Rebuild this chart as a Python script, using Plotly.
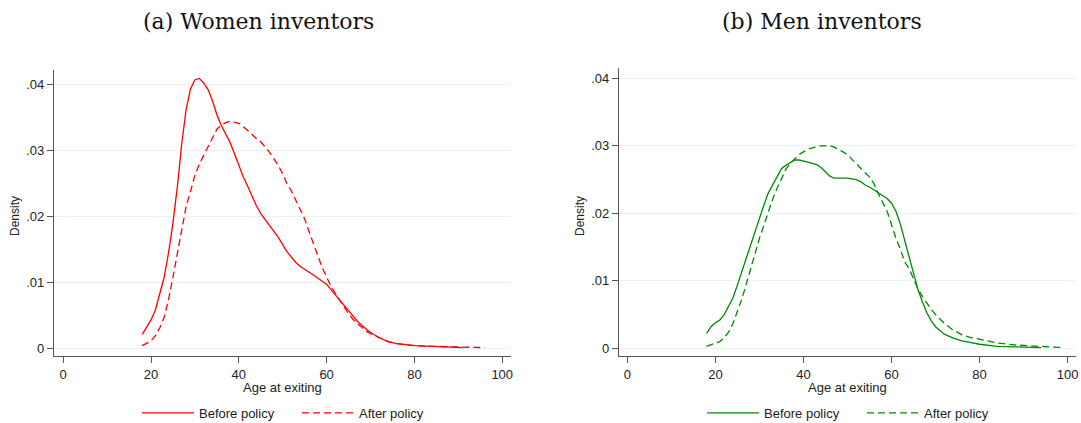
import plotly.graph_objects as go

# ---------------- data: kernel densities of age at exiting ----------------
women_before_age = [18, 19, 20, 21, 22, 23, 24, 25, 26, 27, 28, 29, 30, 31, 32, 33, 34, 35, 36, 37,
                    38, 39, 40, 41, 42, 43, 44, 45, 46, 47, 48, 49, 50, 51, 52, 53, 54, 55, 56, 57,
                    58, 59, 60, 61, 62, 63, 64, 65, 66, 67, 68, 69, 70, 72, 74, 76, 78, 80, 84, 88, 91]
women_before = [0.0021, 0.0031, 0.0043, 0.0058, 0.0082, 0.0108, 0.0145, 0.0190, 0.0245, 0.0310,
                0.0362, 0.0393, 0.0407, 0.0409, 0.0402, 0.0392, 0.0375, 0.0354, 0.0338, 0.0325,
                0.0312, 0.0295, 0.0276, 0.0260, 0.0246, 0.0230, 0.0216, 0.0204, 0.0195, 0.0187,
                0.0178, 0.0168, 0.0157, 0.0146, 0.0138, 0.0130, 0.0124, 0.0120, 0.0115, 0.0111,
                0.0106, 0.0101, 0.0097, 0.0089, 0.0081, 0.0073, 0.0065, 0.0057, 0.0049, 0.0041,
                0.0035, 0.0029, 0.0024, 0.0016, 0.0010, 0.0007, 0.0005, 0.0004, 0.0003, 0.0002, 0.0001]

women_after_age = [18, 19, 20, 21, 22, 23, 24, 25, 26, 27, 28, 29, 30, 31, 32, 33, 34, 35, 36, 37,
                   38, 39, 40, 41, 42, 43, 44, 45, 46, 47, 48, 49, 50, 51, 52, 53, 54, 55, 56, 57,
                   58, 59, 60, 61, 62, 63, 64, 65, 66, 67, 68, 69, 70, 72, 74, 76, 78, 80, 84, 88, 92, 96]
women_after = [0.0004, 0.0007, 0.0011, 0.0019, 0.0031, 0.0047, 0.0074, 0.0108, 0.0145, 0.0183,
               0.0215, 0.0238, 0.0262, 0.0279, 0.0292, 0.0305, 0.0320, 0.0332, 0.0338, 0.0342,
               0.0344, 0.0343, 0.0341, 0.0336, 0.0330, 0.0323, 0.0318, 0.0313, 0.0305, 0.0297,
               0.0287, 0.0277, 0.0264, 0.0249, 0.0238, 0.0224, 0.0211, 0.0196, 0.0177, 0.0159,
               0.0141, 0.0122, 0.0108, 0.0094, 0.0083, 0.0072, 0.0061, 0.0052, 0.0044, 0.0037,
               0.0032, 0.0026, 0.0022, 0.0016, 0.0010, 0.0007, 0.0005, 0.0004, 0.0003, 0.0002,
               0.0001, 0.0001]

men_before_age = [18, 19, 20, 21, 22, 23, 24, 25, 26, 27, 28, 29, 30, 31, 32, 33, 34, 35, 36, 37,
                  38, 39, 40, 41, 42, 43, 44, 45, 46, 47, 48, 49, 50, 51, 52, 53, 54, 55, 56, 57,
                  58, 59, 60, 61, 62, 63, 64, 65, 66, 67, 68, 69, 70, 72, 74, 76, 78, 80, 84, 88, 92, 94]
men_before = [0.0022, 0.0032, 0.0038, 0.0042, 0.0050, 0.0062, 0.0075, 0.0094, 0.0114, 0.0134,
              0.0154, 0.0172, 0.0192, 0.0212, 0.0230, 0.0242, 0.0256, 0.0266, 0.0271, 0.0275,
              0.0279, 0.0279, 0.0278, 0.0276, 0.0274, 0.0272, 0.0268, 0.0261, 0.0255, 0.0252,
              0.0252, 0.0253, 0.0252, 0.0251, 0.0250, 0.0247, 0.0242, 0.0239, 0.0235, 0.0231,
              0.0227, 0.0222, 0.0215, 0.0203, 0.0184, 0.0159, 0.0133, 0.0109, 0.0087, 0.0069,
              0.0053, 0.0041, 0.0032, 0.0021, 0.0015, 0.0011, 0.0008, 0.0006, 0.0003, 0.0002,
              0.0001, 0.0001]

men_after_age = [18, 19, 20, 21, 22, 23, 24, 25, 26, 27, 28, 29, 30, 31, 32, 33, 34, 35, 36, 37,
                 38, 39, 40, 41, 42, 43, 44, 45, 46, 47, 48, 49, 50, 51, 52, 53, 54, 55, 56, 57,
                 58, 59, 60, 61, 62, 63, 64, 65, 66, 67, 68, 69, 70, 72, 74, 76, 78, 80, 84, 88, 92, 96, 99]
men_after = [0.0003, 0.0005, 0.0007, 0.0010, 0.0016, 0.0024, 0.0037, 0.0054, 0.0073, 0.0095,
             0.0118, 0.0142, 0.0163, 0.0182, 0.0202, 0.0221, 0.0237, 0.0252, 0.0265, 0.0274,
             0.0281, 0.0287, 0.0291, 0.0295, 0.0297, 0.0299, 0.0300, 0.0300, 0.0300, 0.0298,
             0.0295, 0.0291, 0.0287, 0.0280, 0.0274, 0.0266, 0.0260, 0.0254, 0.0244, 0.0229,
             0.0217, 0.0203, 0.0183, 0.0163, 0.0147, 0.0128, 0.0118, 0.0103, 0.0088, 0.0077,
             0.0067, 0.0058, 0.0050, 0.0037, 0.0027, 0.0020, 0.0016, 0.0013, 0.0008, 0.0005,
             0.0003, 0.0002, 0.0001]

x_ticks = [0, 20, 40, 60, 80, 100]
y_ticks = [0, 0.01, 0.02, 0.03, 0.04]
y_tick_text = ["0", ".01", ".02", ".03", ".04"]

panel_titles = ["(a) Women inventors", "(b) Men inventors"]
series_names = ["Before policy", "After policy"]

RED = "#FF0000"
GREEN = "#008A00"
DASH = "7px,4px"
SANS = "Liberation Sans, Arial, sans-serif"
TEXT = "#222222"

fig = go.Figure()

fig.add_trace(go.Scatter(x=women_before_age, y=women_before, mode="lines", name=series_names[0],
                         line=dict(color=RED, width=1.3), xaxis="x", yaxis="y", legend="legend"))
fig.add_trace(go.Scatter(x=women_after_age, y=women_after, mode="lines", name=series_names[1],
                         line=dict(color=RED, width=1.3, dash=DASH), xaxis="x", yaxis="y", legend="legend"))
fig.add_trace(go.Scatter(x=men_before_age, y=men_before, mode="lines", name=series_names[0],
                         line=dict(color=GREEN, width=1.3), xaxis="x2", yaxis="y2", legend="legend2"))
fig.add_trace(go.Scatter(x=men_after_age, y=men_after, mode="lines", name=series_names[1],
                         line=dict(color=GREEN, width=1.3, dash=DASH), xaxis="x2", yaxis="y2", legend="legend2"))

axis_common = dict(
    showline=True, linecolor="#555555", linewidth=1.3,
    ticks="outside", ticklen=6, tickcolor="#555555", tickwidth=1,
    tickfont=dict(family=SANS, size=13, color=TEXT),
    zeroline=False, mirror=False, automargin=False,
)

W, H = 1081, 423
left_dom = [54 / W, 511 / W]
right_dom = [619 / W, 1076 / W]
y_dom_left = [1 - 356 / H, 1 - 70 / H]
y_dom_right = [1 - 356 / H, 1 - 68 / H]

legend_common = dict(orientation="h", xanchor="left", y=1 - 413 / H, yanchor="middle",
                     font=dict(family=SANS, size=13, color=TEXT), bgcolor="rgba(0,0,0,0)",
                     itemwidth=52, entrywidth=93, tracegroupgap=0)

fig.update_layout(
    width=W, height=H,
    margin=dict(l=0, r=0, t=0, b=0, autoexpand=False),
    paper_bgcolor="white", plot_bgcolor="white",
    xaxis=dict(domain=left_dom, range=[-2.1, 102], tickvals=x_ticks, showgrid=False,
               anchor="y", **axis_common),
    yaxis=dict(domain=y_dom_left, range=[-0.00117, 0.04217], tickvals=y_ticks, ticktext=y_tick_text,
               showgrid=True, gridcolor="#EAF2F3", gridwidth=1, anchor="x", **axis_common),
    xaxis2=dict(domain=right_dom, range=[-1.9, 101.9], tickvals=x_ticks, showgrid=False,
                anchor="y2", **axis_common),
    yaxis2=dict(domain=y_dom_right, range=[-0.00114, 0.04153], tickvals=y_ticks, ticktext=y_tick_text,
                showgrid=True, gridcolor="#EAF2F3", gridwidth=1, anchor="x2", **axis_common),
    legend=dict(x=137 / W, **legend_common),
    legend2=dict(x=702 / W, **legend_common),
    showlegend=True,
)

# panel titles and x-axis titles
for title, tx, dom in zip(panel_titles, [258, 822], [left_dom, right_dom]):
    fig.add_annotation(text=title, x=tx / W, y=1 - 22 / H, xref="paper", yref="paper",
                       xanchor="center", yanchor="middle", showarrow=False,
                       font=dict(family="DejaVu Serif, serif", size=22, color="#111111"))
    fig.add_annotation(text="Age at exiting", x=sum(dom) / 2, y=1 - 387 / H, xref="paper", yref="paper",
                       xanchor="center", yanchor="middle", showarrow=False,
                       font=dict(family=SANS, size=13, color=TEXT))

# y-axis titles
for xpix, ypix in [(15, 216), (580, 216)]:
    fig.add_annotation(text="Density", x=xpix / W, y=1 - ypix / H, xref="paper", yref="paper",
                       xanchor="center", yanchor="middle", showarrow=False, textangle=-90,
                       font=dict(family=SANS, size=12, color=TEXT))

fig.write_html("out.html",
               post_script="document.body.style.margin='0';document.body.style.overflow='hidden';")
